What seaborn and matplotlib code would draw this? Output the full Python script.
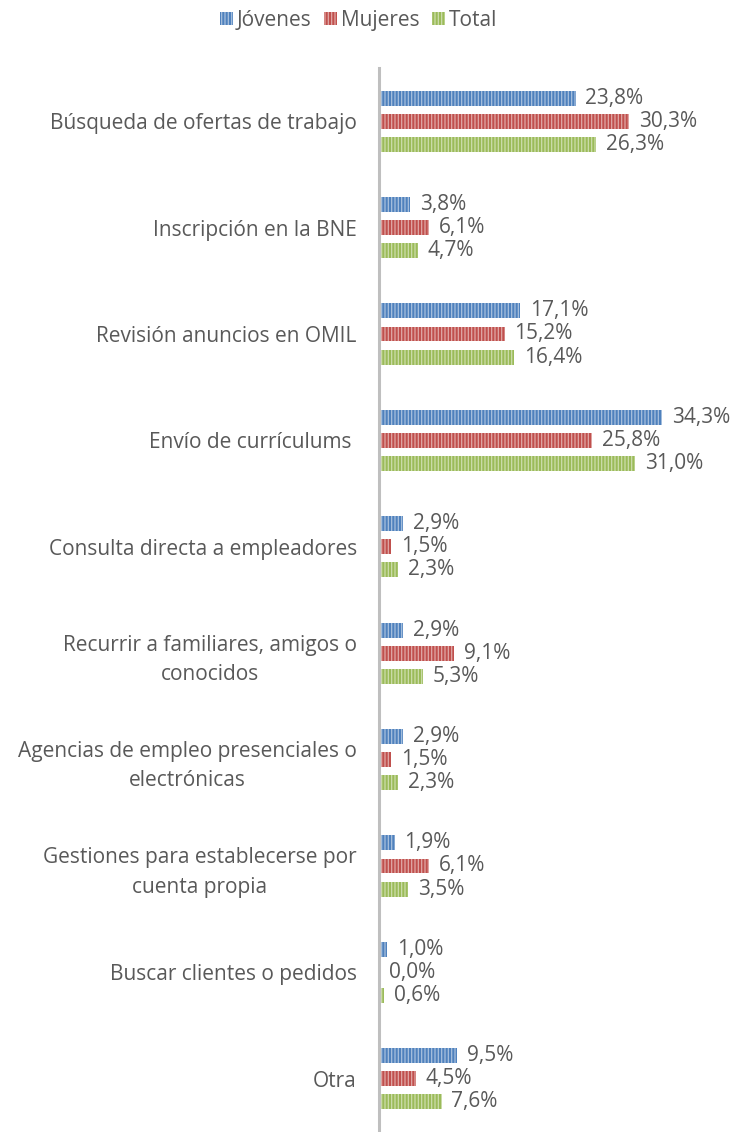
import numpy as np
import pandas as pd
import matplotlib as mpl
mpl.use('Agg')
import matplotlib.pyplot as plt
from matplotlib.patches import Patch
import seaborn as sns

categorias = ['Búsqueda de ofertas de trabajo', 'Inscripción en la BNE', 'Revisión anuncios en OMIL',
              'Envío de currículums ', 'Consulta directa a empleadores',
              'Recurrir a familiares, amigos o\nconocidos', 'Agencias de empleo presenciales o\nelectrónicas',
              'Gestiones para establecerse por\ncuenta propia', 'Buscar clientes o pedidos', 'Otra']
series = ['Jóvenes', 'Mujeres', 'Total']
jovenes = [23.8, 3.8, 17.1, 34.3, 2.9, 2.9, 2.9, 1.9, 1.0, 9.5]
mujeres = [30.3, 6.1, 15.2, 25.8, 1.5, 9.1, 1.5, 6.1, 0.0, 4.5]
total = [26.3, 4.7, 16.4, 31.0, 2.3, 5.3, 2.3, 3.5, 0.6, 7.6]

colores = ['#4F81BD', '#C0504D', '#9BBB59']
rayas = ['#A7C0DE', '#E0A8A6', '#CDDDAC']

df = pd.DataFrame({
    'categoria': categorias * 3,
    'serie': np.repeat(series, len(categorias)),
    'valor': jovenes + mujeres + total,
})

sns.set_style('white')
plt.rcParams['font.family'] = ['Open Sans', 'DejaVu Sans']
plt.rcParams['hatch.linewidth'] = 0.9

fig = plt.figure(figsize=(7.32, 11.32), dpi=100)
ax = fig.add_axes([379 / 732, 0.0, 341 / 732, 1 - 68 / 1132])

sns.barplot(data=df, y='categoria', x='valor', hue='serie', hue_order=series,
            palette=colores, orient='h', width=0.65, gap=0.35, ax=ax, legend=False,
            saturation=1)

texto = '#595959'
for cont, raya in zip(ax.containers, rayas):
    for p in cont:
        p.set_hatch('|||||')
        p.set_edgecolor(raya)
        p.set_linewidth(0)
    ax.bar_label(cont, labels=[('%.1f%%' % p.get_width()).replace('.', ',') for p in cont],
                 padding=7, fontsize=15, color=texto)

ax.set_xlim(0, 41.3)
ax.set_ylim(len(categorias) - 0.5, -0.5)
ax.set_xlabel('')
ax.set_ylabel('')
ax.set_xticks([])
for s in ['top', 'right', 'bottom']:
    ax.spines[s].set_visible(False)
ax.spines['left'].set_color('#BFBFBF')
ax.spines['left'].set_linewidth(2.2)
ax.tick_params(axis='y', length=0, pad=16, labelsize=15, labelcolor=texto)
for t in ax.get_yticklabels():
    t.set_multialignment('center')
    t.set_linespacing(1.5)

handles = [Patch(facecolor=c, edgecolor=r, hatch='|||||', linewidth=0, label=s)
           for c, r, s in zip(colores, rayas, series)]
fig.legend(handles=handles, loc='upper center', bbox_to_anchor=(0.49, 0.995), ncol=3,
           frameon=False, fontsize=15, handlelength=0.6, handleheight=0.6,
           handletextpad=0.2, columnspacing=0.6, labelcolor=texto, borderaxespad=0.0,
           borderpad=0.2)

fig.savefig('out.png', dpi=100)
